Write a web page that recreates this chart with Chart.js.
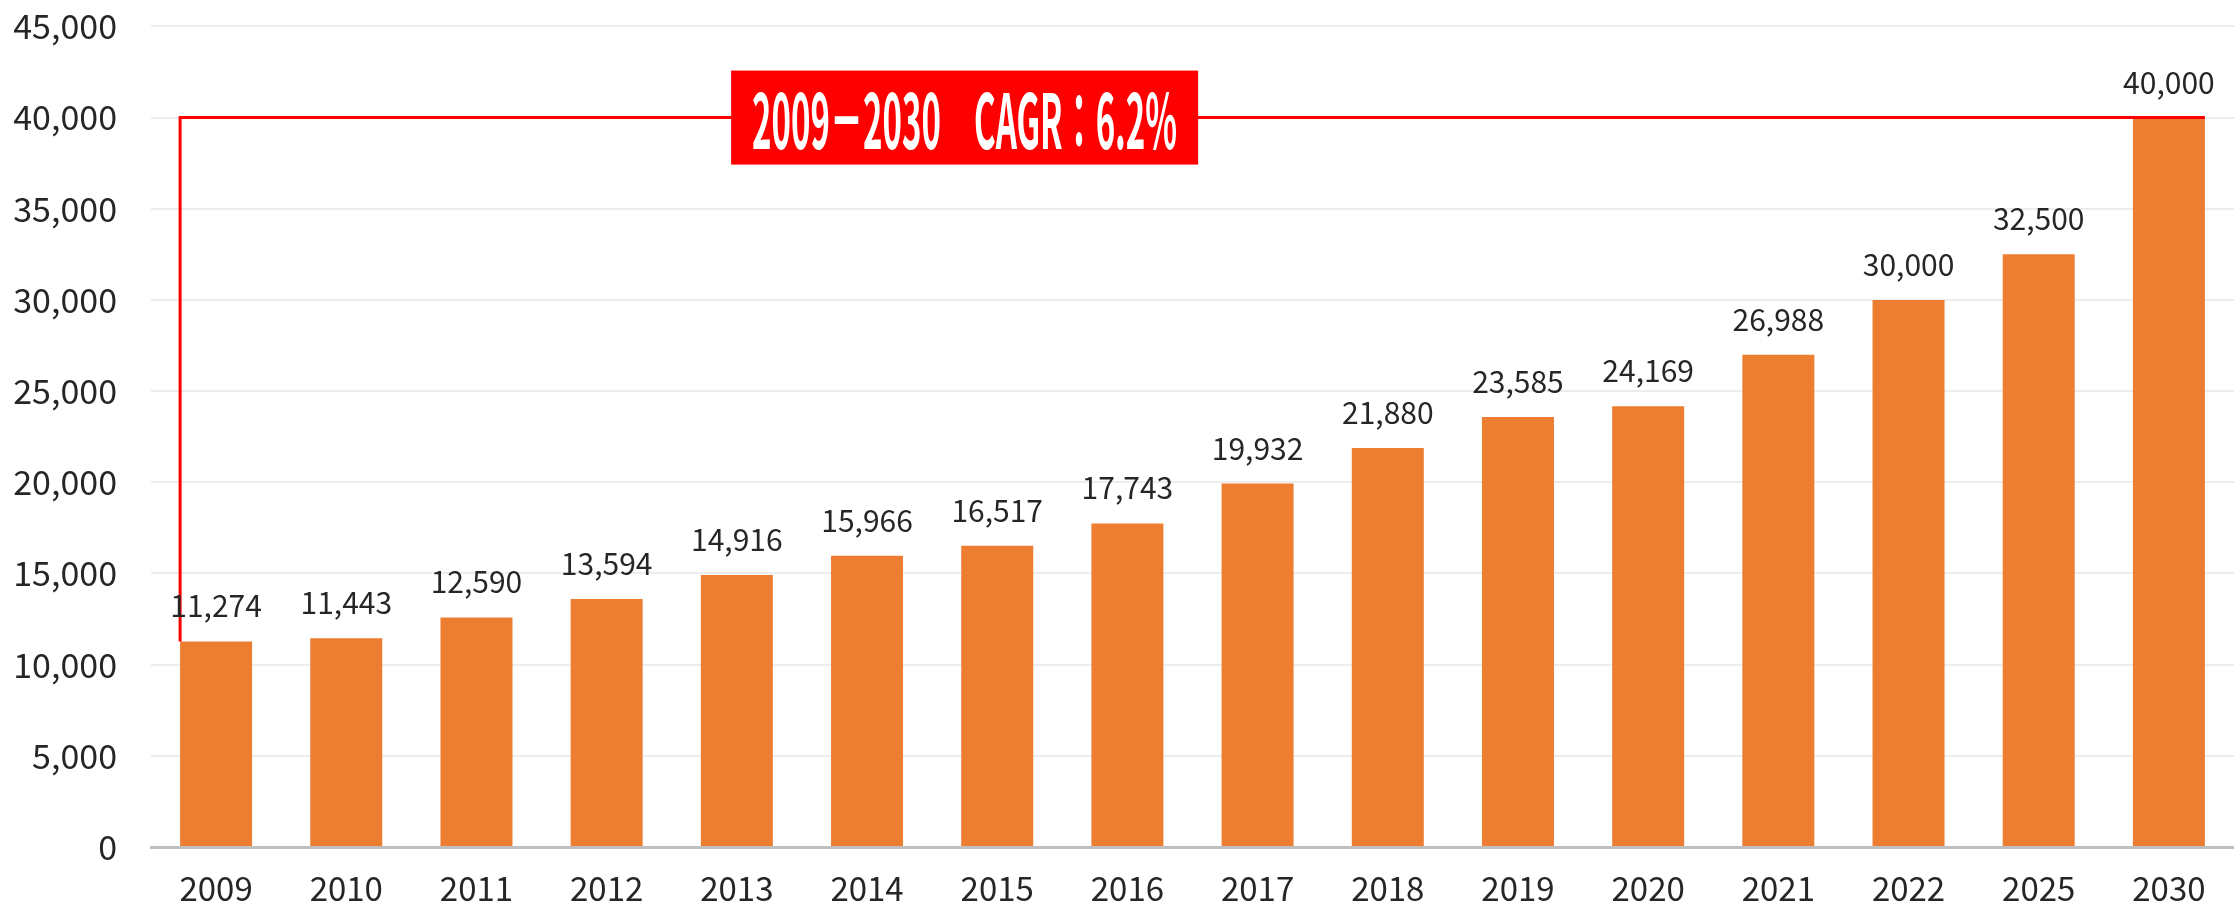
<!DOCTYPE html>
<html>
<head>
<meta charset="utf-8">
<script src="https://cdn.jsdelivr.net/npm/chart.js@4.4.1/dist/chart.umd.min.js"></script>
<style>
  body { margin: 0; background: #fff; overflow: hidden; }
  #wrap { width: 2234px; height: 937px; position: relative; margin-top: -28px; }
</style>
</head>
<body>
<div id="wrap"><canvas id="marketChart"></canvas></div>
<script>
// Daten
const years = ['2009', '2010', '2011', '2012', '2013', '2014', '2015', '2016',
  '2017', '2018', '2019', '2020', '2021', '2022', '2025', '2030'];
const values = [11274, 11443, 12590, 13594, 14916, 15966, 16517, 17743,
  19932, 21880, 23585, 24169, 26988, 30000, 32500, 40000];
const yTicks = [0, 5000, 10000, 15000, 20000, 25000, 30000, 35000, 40000, 45000];
const cagrText = '2009－2030　CAGR：6.2%';

const FONT = '"Noto Sans CJK JP", "Noto Sans", sans-serif';
const fmt = v => v.toLocaleString('en-US');

// rote Klammer von 2009 bis 2030 + CAGR-Kasten
const bracketPlugin = {
  id: 'bracket',
  afterDatasetsDraw(chart) {
    const ctx = chart.ctx;
    const bars = chart.getDatasetMeta(0).data;
    const first = bars[0];
    const last = bars[bars.length - 1];
    const yTop = chart.scales.y.getPixelForValue(values[values.length - 1]);
    const xLeft = first.x - first.width / 2;
    const xRight = last.x + last.width / 2;

    ctx.save();
    ctx.strokeStyle = '#FF0000';
    ctx.lineWidth = 3;
    ctx.beginPath();
    ctx.moveTo(xLeft, first.y);
    ctx.lineTo(xLeft, yTop);
    ctx.lineTo(xRight, yTop);
    ctx.stroke();

    // Kasten
    const area = chart.chartArea;
    const boxW = 467, boxH = 94;
    const cx = area.left + 0.3906 * (area.right - area.left);
    ctx.fillStyle = '#FF0000';
    ctx.fillRect(cx - boxW / 2, yTop - boxH / 2, boxW, boxH);

    ctx.fillStyle = '#FFFFFF';
    ctx.font = 'bold 76px ' + FONT;
    ctx.textAlign = 'center';
    ctx.textBaseline = 'middle';
    const w = ctx.measureText(cagrText).width;
    const sx = 425 / w;
    ctx.translate(cx, yTop + 3);
    ctx.scale(sx, 1);
    ctx.fillText(cagrText, 0, 0);
    ctx.restore();
  }
};

// Werte über den Balken
const valueLabels = {
  id: 'valueLabels',
  afterDatasetsDraw(chart) {
    const ctx = chart.ctx;
    const meta = chart.getDatasetMeta(0);
    ctx.save();
    ctx.font = '30px ' + FONT;
    ctx.fillStyle = '#262626';
    ctx.textAlign = 'center';
    ctx.textBaseline = 'alphabetic';
    meta.data.forEach((bar, i) => {
      ctx.fillText(fmt(values[i]), bar.x, bar.y - 24);
    });
    ctx.restore();
  }
};

new Chart(document.getElementById('marketChart'), {
  type: 'bar',
  data: {
    labels: years,
    datasets: [{
      data: values,
      backgroundColor: '#ED7D31',
      borderWidth: 0,
      barPercentage: 0.553,
      categoryPercentage: 1.0
    }]
  },
  options: {
    responsive: true,
    maintainAspectRatio: false,
    animation: false,
    layout: { padding: 0 },
    plugins: {
      legend: { display: false },
      tooltip: { enabled: false }
    },
    scales: {
      x: {
        grid: { display: false, drawTicks: false },
        border: { display: true, color: '#BFBFBF', width: 3 },
        ticks: {
          color: '#262626',
          font: { family: FONT, size: 33 },
          padding: 22,
          maxRotation: 0
        },
        afterFit(scale) { scale.height = 62; }
      },
      y: {
        min: 0,
        max: 45000,
        afterBuildTicks(scale) { scale.ticks = yTicks.map(v => ({ value: v })); },
        grid: {
          drawTicks: false,
          color: ctx => ctx.tick && ctx.tick.value === 0 ? 'rgba(0,0,0,0)' : '#EDEDED',
          lineWidth: 2
        },
        border: { display: false },
        ticks: {
          color: '#262626',
          font: { family: FONT, size: 34 },
          padding: 34,
          callback: v => fmt(v)
        },
        afterFit(scale) { scale.width = 151; }
      }
    }
  },
  plugins: [bracketPlugin, valueLabels]
});
</script>
</body>
</html>
